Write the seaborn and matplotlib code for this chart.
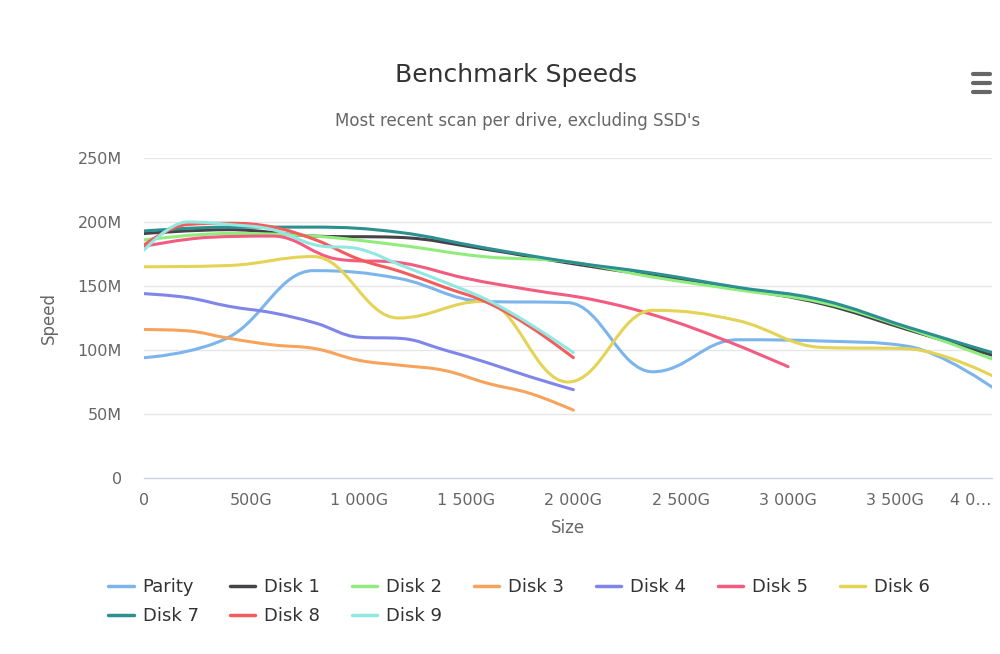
import numpy as np
import pandas as pd
import seaborn as sns
import matplotlib.pyplot as plt
from matplotlib.path import Path
from matplotlib.patches import PathPatch
from matplotlib.lines import Line2D

# drive names and colours (highcharts default palette)
drives = ['Parity', 'Disk 1', 'Disk 2', 'Disk 3', 'Disk 4',
          'Disk 5', 'Disk 6', 'Disk 7', 'Disk 8', 'Disk 9']
colors = ['#7cb5ec', '#434348', '#90ed7d', '#f7a35c', '#8085e9',
          '#f15c80', '#e4d354', '#2b908f', '#f45b5b', '#91e8e1']

# scan positions in G (10 % steps of each drive size)
pos_4t = [0, 395, 790, 1185, 1580, 1975, 2370, 2765, 3160, 3555, 3950]
pos_3t = [0, 300, 600, 900, 1200, 1500, 1800, 2100, 2400, 2700, 3000]
pos_2t = [0, 200, 400, 600, 800, 1000, 1200, 1400, 1600, 1800, 2000]

# speeds in M
parity = [94, 110, 162, 156, 138, 137, 83, 108, 107, 103, 71]
disk1 = [191, 194, 189, 188, 179, 168, 158, 148, 136, 116, 96]
disk2 = [186, 191, 189, 182, 173, 169, 157, 147, 137, 117, 93]
disk3 = [116, 115, 109, 104, 101, 92, 88, 84, 74, 66, 53]
disk4 = [144, 141, 134, 129, 121, 110, 109, 100, 90, 79, 69]
disk5 = [181, 188, 189, 171, 168, 156, 147, 139, 126, 108, 87]
disk6 = [165, 166, 173, 125, 138, 75, 131, 123, 102, 101, 80]
disk7 = [193, 196, 196, 192, 180, 169, 160, 149, 139, 118, 98]
disk8 = [182, 198, 199, 196, 186, 171, 161, 149, 137, 118, 94]
disk9 = [178, 200, 198, 194, 182, 179, 166, 153, 139, 120, 98]

speeds = [parity, disk1, disk2, disk3, disk4, disk5, disk6, disk7, disk8, disk9]
positions = [pos_4t, pos_4t, pos_4t, pos_2t, pos_2t, pos_3t, pos_4t, pos_4t, pos_2t, pos_2t]

rows = []
for name, xs, ys in zip(drives, positions, speeds):
    for x, y in zip(xs, ys):
        rows.append({'drive': name, 'size': x, 'speed': y})
df = pd.DataFrame(rows)


def spline_path(xs, ys, smoothing=1.5):
    # same bezier control points as a highcharts "spline" series
    xs = np.asarray(xs, float)
    ys = np.asarray(ys, float)
    n = len(xs)
    denom = smoothing + 1
    ctrl = []
    for i in range(n):
        if 0 < i < n - 1:
            lx = (smoothing * xs[i] + xs[i - 1]) / denom
            ly = (smoothing * ys[i] + ys[i - 1]) / denom
            rx = (smoothing * xs[i] + xs[i + 1]) / denom
            ry = (smoothing * ys[i] + ys[i + 1]) / denom
            corr = (ry - ly) * (rx - xs[i]) / (rx - lx) + ys[i] - ry
            ly += corr
            ry += corr
            if ly > ys[i - 1] and ly > ys[i]:
                ly = max(ys[i - 1], ys[i])
                ry = 2 * ys[i] - ly
            elif ly < ys[i - 1] and ly < ys[i]:
                ly = min(ys[i - 1], ys[i])
                ry = 2 * ys[i] - ly
            if ry > ys[i + 1] and ry > ys[i]:
                ry = max(ys[i + 1], ys[i])
                ly = 2 * ys[i] - ry
            elif ry < ys[i + 1] and ry < ys[i]:
                ry = min(ys[i + 1], ys[i])
                ly = 2 * ys[i] - ry
            ctrl.append((lx, ly, rx, ry))
        else:
            ctrl.append((xs[i], ys[i], xs[i], ys[i]))
    verts = [(xs[0], ys[0])]
    codes = [Path.MOVETO]
    for i in range(1, n):
        verts += [(ctrl[i - 1][2], ctrl[i - 1][3]), (ctrl[i][0], ctrl[i][1]), (xs[i], ys[i])]
        codes += [Path.CURVE4] * 3
    return Path(verts, codes)


sns.set_theme(style='white')
plt.rcParams['font.family'] = ['DejaVu Sans']

fig = plt.figure(figsize=(10, 6.54), dpi=100)
ax = fig.add_axes([0.144, 1 - 478 / 654, 0.848, 320 / 654])

sns.lineplot(data=df, x='size', y='speed', hue='drive', palette=colors,
             hue_order=drives, estimator=None, sort=True, legend=False, ax=ax)

# smooth the seaborn lines into splines
for line, color in zip(ax.get_lines(), colors):
    xs, ys = line.get_data()
    line.set_visible(False)
    ax.add_patch(PathPatch(spline_path(xs, ys), facecolor='none', edgecolor=color,
                           lw=2.2, capstyle='round', joinstyle='round', zorder=3))

ax.set_xlim(0, 3950)
ax.set_ylim(0, 250)
ax.set_xticks([0, 500, 1000, 1500, 2000, 2500, 3000, 3500])
ax.set_xticklabels(['0', '500G', '1 000G', '1 500G', '2 000G', '2 500G', '3 000G', '3 500G'])
ax.set_yticks([0, 50, 100, 150, 200, 250])
ax.set_yticklabels(['0', '50M', '100M', '150M', '200M', '250M'])
ax.text(3849, -0.046, '4 0…', transform=ax.get_xaxis_transform(), ha='center', va='top',
        fontsize=11.5, color='#666666')

ax.grid(axis='y', color='#e6e6e6', lw=1)
ax.grid(axis='x', visible=False)
for s in ['top', 'right', 'left']:
    ax.spines[s].set_visible(False)
ax.spines['bottom'].set_color('#ccd6eb')
ax.spines['bottom'].set_linewidth(1)
ax.tick_params(axis='x', length=7, color='#ccd6eb', width=1, pad=4, labelsize=11.5, labelcolor='#666666')
ax.tick_params(axis='y', length=0, pad=16, labelsize=11.5, labelcolor='#666666')
ax.set_xlabel('Size', fontsize=12, color='#666666', labelpad=8)
ax.set_ylabel('Speed', fontsize=12, color='#666666', labelpad=14)

fig.text(0.516, 1 - 75 / 654, 'Benchmark Speeds', ha='center', va='center', fontsize=18, color='#333333')
fig.text(0.518, 1 - 121 / 654, "Most recent scan per drive, excluding SSD's", ha='center', va='center',
         fontsize=12, color='#666666')

# menu icon
for yy in [74, 83, 92]:
    fig.add_artist(Line2D([0.973, 0.990], [1 - yy / 654] * 2, color='#666666', lw=3))

# legend filled row by row (matplotlib fills column by column)
order = [0, 7, 1, 8, 2, 9, 3, 4, 5, 6]
handles = [Line2D([], [], color=colors[i], lw=2.5) for i in order]
labels = [drives[i] for i in order]
fig.legend(handles, labels, ncol=7, loc='upper left', bbox_to_anchor=(0.092, 1 - 562 / 654),
           frameon=False, fontsize=13, handlelength=1.4, handletextpad=0.5,
           columnspacing=1.75, labelspacing=0.6, labelcolor='#333333')

fig.savefig('out.png', dpi=100)
